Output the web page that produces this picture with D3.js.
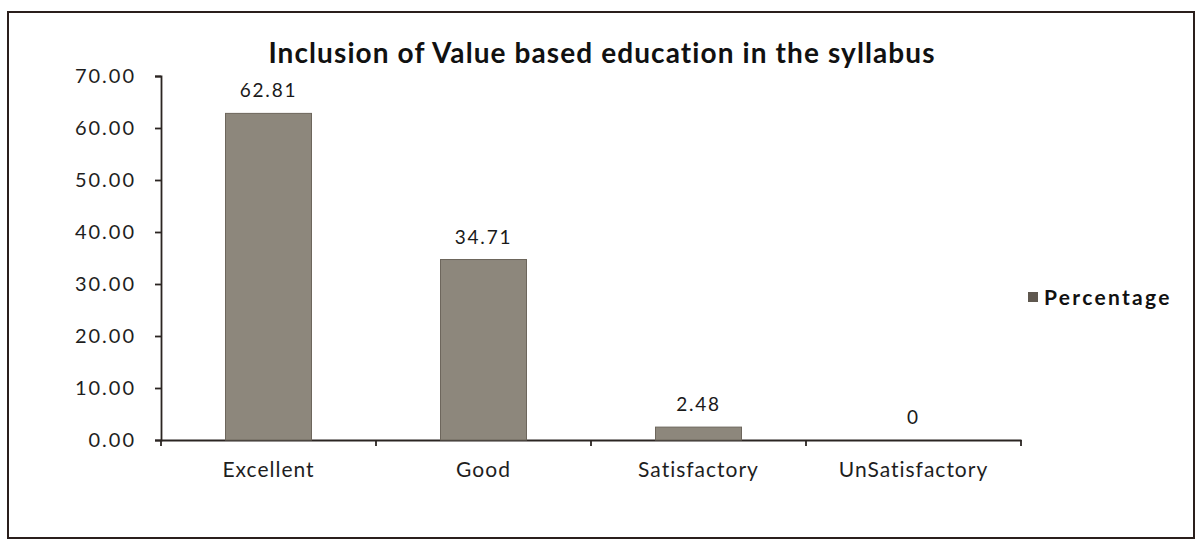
<!DOCTYPE html>
<meta charset="utf-8">
<style>
    body { margin: 0; background: #fff; }
    svg text { font-family: Lato, "Open Sans", sans-serif; fill: #1a1a1a; }
    .axis path, .axis line { stroke: #2b2522; stroke-width: 1.8; }
    .axis text { font-size: 21px; fill: #1e1e1e; letter-spacing: 1px; }
</style>
<svg></svg>
<script src="https://d3js.org/d3.v7.min.js"></script>
<script>

    var categories = ["Excellent", "Good", "Satisfactory", "UnSatisfactory"];
    var percentage = [62.81, 34.71, 2.48, 0];
    var valueLabels = ["62.81", "34.71", "2.48", "0"];
    var yTicks = [0, 10, 20, 30, 40, 50, 60, 70];

    var width = 1199,
        height = 544;

    var svg = d3.select("svg")
        .attr("width", width)
        .attr("height", height);

    // outer chart frame
    svg.append("rect")
        .attr("x", 8).attr("y", 12)
        .attr("width", 1186).attr("height", 526)
        .attr("fill", "none")
        .attr("stroke", "#2a1f1c")
        .attr("stroke-width", 2);

    var x = d3.scaleBand()
        .domain(categories)
        .range([161, 1021])
        .paddingInner(0.6)
        .paddingOuter(0.3);

    var y = d3.scaleLinear()
        .domain([0, 70])
        .range([440, 76]);

    svg.append("text")
        .attr("x", 602)
        .attr("y", 63)
        .attr("text-anchor", "middle")
        .style("font-size", "28px")
        .style("font-weight", "bold")
        .style("letter-spacing", "1.1px")
        .style("fill", "#111")
        .text("Inclusion of Value based education in the syllabus");

    svg.append("g")
        .attr("class", "axis")
        .attr("transform", "translate(161,0)")
        .call(d3.axisLeft(y).tickValues(yTicks).tickSize(6).tickSizeOuter(6)
            .tickFormat(d3.format(".2f")))
        .selectAll("text")
        .attr("dx", "-16")
        .style("font-size", "20px")
        .style("letter-spacing", "2px");

    var xAxis = svg.append("g")
        .attr("class", "axis")
        .attr("transform", "translate(0,440)");

    xAxis.call(d3.axisBottom(x).tickSize(0).tickSizeOuter(0))
        .selectAll("text").attr("y", 37).attr("dy", 0);

    // ticks sit between categories, as in the original
    var r = x.range();
    var edges = d3.range(categories.length + 1).map(function (i) { return r[0] + i * (r[1] - r[0]) / categories.length; });
    xAxis.selectAll(".edge")
        .data(edges)
        .enter().append("line")
        .attr("class", "edge")
        .attr("x1", function (d) { return d; })
        .attr("x2", function (d) { return d; })
        .attr("y1", 0).attr("y2", 6)
        .attr("stroke", "#2b2522").attr("stroke-width", 1.8);

    var data = categories.map(function (c, i) { return { cat: c, value: percentage[i], label: valueLabels[i] }; });

    svg.selectAll(".bar")
        .data(data)
        .enter().append("rect")
        .attr("class", "bar")
        .attr("x", function (d) { return x(d.cat); })
        .attr("y", function (d) { return y(d.value); })
        .attr("width", x.bandwidth())
        .attr("height", function (d) { return y(0) - y(d.value); })
        .attr("fill", "#8d877c")
        .attr("stroke", "#6d665c")
        .attr("stroke-width", 1);

    svg.selectAll(".vlabel")
        .data(data)
        .enter().append("text")
        .attr("class", "vlabel")
        .attr("x", function (d) { return x(d.cat) + x.bandwidth() / 2; })
        .attr("y", function (d) { return y(d.value) - 16; })
        .attr("text-anchor", "middle")
        .style("font-size", "19px")
        .style("letter-spacing", "1.8px")
        .text(function (d) { return d.label; });

    // legend
    svg.append("rect")
        .attr("x", 1028).attr("y", 292)
        .attr("width", 10).attr("height", 10)
        .attr("fill", "#5f584f");
    svg.append("text")
        .attr("x", 1044).attr("y", 305)
        .style("font-size", "21px")
        .style("font-weight", "bold")
        .style("letter-spacing", "2.3px")
        .style("fill", "#111")
        .text("Percentage");

</script>
